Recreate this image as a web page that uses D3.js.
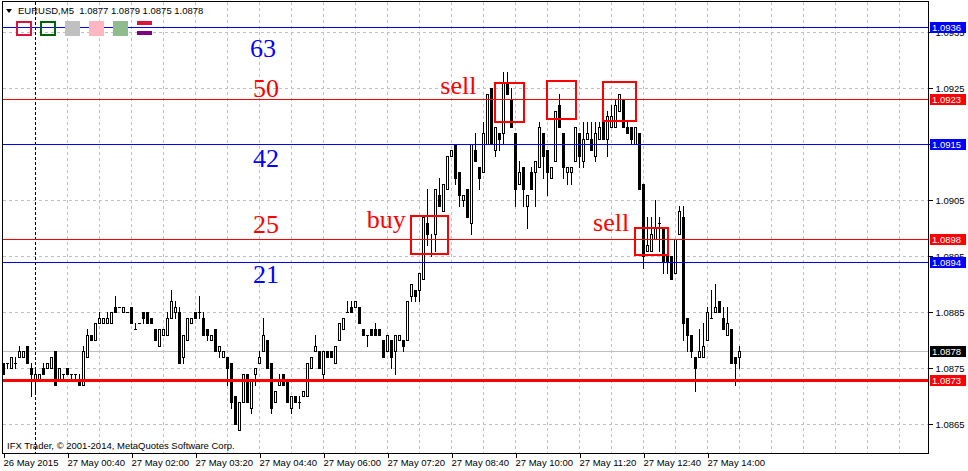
<!DOCTYPE html>
<html><head><meta charset="utf-8">
<script src="https://cdn.jsdelivr.net/npm/d3@7"></script>
<style>body{margin:0;background:#fff}svg{display:block}</style>
</head><body>
<svg id="c" width="968" height="471"></svg>
<script>
const symbolName = "EURUSD,M5";
const opens = [1.0876,1.0876,1.0875,1.0876,1.0877,1.0877,1.0879,1.0875,1.0873,1.0873,1.0875,1.0875,1.0875,1.0878,1.0873,1.0874,1.0875,1.0874,1.0874,1.0873,
1.0872,1.0877,1.0881,1.0880,1.0883,1.0883,1.0883,1.0883,1.0886,1.0886,1.0885,1.0885,1.0886,1.0882,1.0883,1.0885,1.0885,1.0884,1.0882,1.0879,
1.0881,1.0881,1.0884,1.0885,1.0885,1.0877,1.0880,1.0883,1.0885,1.0885,1.0884,1.0882,1.0880,1.0882,1.0878,1.0877,1.0877,1.0876,1.0870,1.0864,
1.0869,1.0874,1.0868,1.0874,1.0876,1.0878,1.0880,1.0876,1.0869,1.0872,1.0874,1.0873,1.0868,1.0870,1.0869,1.0870,1.0870,1.0875,1.0878,1.0878,
1.0874,1.0878,1.0878,1.0876,1.0880,1.0882,1.0885,1.0886,1.0886,1.0886,1.0882,1.0881,1.0882,1.0882,1.0882,1.0880,1.0878,1.0880,1.0878,1.0880,
1.0880,1.0880,1.0888,1.0889,1.0889,1.0891,1.0901,1.0898,1.0899,1.0906,1.0903,1.0907,1.0913,1.0915,1.0910,1.0905,1.0907,1.0901,1.0914,1.0911,
1.0910,1.0915,1.0925,1.0914,1.0917,1.0917,1.0926,1.0923,1.0917,1.0908,1.0911,1.0904,1.0910,1.0910,1.0911,1.0917,1.0914,1.0909,1.0912,1.0922,
1.0917,1.0910,1.0910,1.0912,1.0917,1.0912,1.0916,1.0916,1.0913,1.0916,1.0919,1.0916,1.0918,1.0918,1.0921,1.0923,1.0918,1.0918,1.0915,1.0917,
1.0908,1.0896,1.0896,1.0898,1.0901,1.0900,1.0895,1.0895,1.0892,1.0899,1.0902,1.0884,1.0881,1.0877,1.0877,1.0877,1.0880,1.0884,1.0885,1.0887,
1.0884,1.0881,1.0882,1.0877,1.0877];
const highs = [1.0876,1.0876,1.0877,1.0877,1.0879,1.0878,1.0879,1.0876,1.0875,1.0874,1.0876,1.0876,1.0877,1.0878,1.0875,1.0874,1.0875,1.0874,1.0874,1.0874,
1.0879,1.0882,1.0881,1.0883,1.0885,1.0884,1.0885,1.0885,1.0888,1.0886,1.0886,1.0885,1.0886,1.0883,1.0883,1.0885,1.0885,1.0884,1.0882,1.0882,
1.0882,1.0885,1.0889,1.0887,1.0886,1.0881,1.0884,1.0884,1.0885,1.0888,1.0885,1.0882,1.0881,1.0882,1.0879,1.0878,1.0877,1.0876,1.0870,1.0869,
1.0874,1.0874,1.0873,1.0875,1.0878,1.0884,1.0880,1.0876,1.0871,1.0874,1.0874,1.0873,1.0870,1.0870,1.0870,1.0871,1.0876,1.0877,1.0881,1.0878,
1.0878,1.0878,1.0878,1.0879,1.0883,1.0884,1.0887,1.0887,1.0887,1.0886,1.0882,1.0881,1.0882,1.0883,1.0882,1.0880,1.0881,1.0880,1.0881,1.0881,
1.0880,1.0887,1.0890,1.0889,1.0892,1.0902,1.0907,1.0899,1.0907,1.0909,1.0908,1.0913,1.0914,1.0915,1.0910,1.0906,1.0907,1.0915,1.0917,1.0911,
1.0919,1.0924,1.0925,1.0918,1.0917,1.0928,1.0928,1.0925,1.0917,1.0912,1.0911,1.0906,1.0911,1.0912,1.0919,1.0917,1.0914,1.0911,1.0921,1.0924,
1.0917,1.0911,1.0911,1.0918,1.0917,1.0919,1.0919,1.0919,1.0919,1.0919,1.0920,1.0921,1.0922,1.0923,1.0924,1.0923,1.0919,1.0918,1.0918,1.0917,
1.0908,1.0902,1.0902,1.0905,1.0902,1.0900,1.0895,1.0895,1.0898,1.0904,1.0904,1.0884,1.0881,1.0877,1.0882,1.0883,1.0886,1.0889,1.0890,1.0887,
1.0886,1.0886,1.0882,1.0877,1.0879];
const lows = [1.0874,1.0875,1.0875,1.0875,1.0877,1.0877,1.0876,1.0870,1.0871,1.0873,1.0874,1.0875,1.0875,1.0872,1.0873,1.0873,1.0874,1.0873,1.0873,1.0872,
1.0872,1.0877,1.0880,1.0880,1.0883,1.0883,1.0883,1.0883,1.0885,1.0886,1.0885,1.0885,1.0883,1.0882,1.0883,1.0883,1.0883,1.0883,1.0880,1.0879,
1.0881,1.0881,1.0884,1.0884,1.0876,1.0876,1.0880,1.0883,1.0884,1.0884,1.0881,1.0880,1.0880,1.0878,1.0877,1.0877,1.0872,1.0868,1.0865,1.0864,
1.0869,1.0869,1.0867,1.0872,1.0876,1.0878,1.0875,1.0867,1.0869,1.0872,1.0872,1.0869,1.0867,1.0869,1.0868,1.0870,1.0870,1.0875,1.0878,1.0875,
1.0873,1.0877,1.0877,1.0876,1.0880,1.0882,1.0885,1.0885,1.0886,1.0883,1.0881,1.0879,1.0881,1.0881,1.0881,1.0877,1.0878,1.0875,1.0874,1.0880,
1.0878,1.0880,1.0887,1.0887,1.0887,1.0891,1.0897,1.0895,1.0896,1.0904,1.0903,1.0907,1.0913,1.0908,1.0904,1.0904,1.0902,1.0899,1.0912,1.0907,
1.0910,1.0915,1.0915,1.0913,1.0914,1.0915,1.0924,1.0918,1.0904,1.0908,1.0904,1.0900,1.0907,1.0904,1.0911,1.0909,1.0906,1.0909,1.0912,1.0918,
1.0909,1.0908,1.0908,1.0912,1.0911,1.0911,1.0916,1.0914,1.0912,1.0916,1.0916,1.0913,1.0918,1.0918,1.0921,1.0918,1.0917,1.0915,1.0915,1.0907,
1.0893,1.0896,1.0896,1.0898,1.0896,1.0892,1.0892,1.0891,1.0892,1.0899,1.0880,1.0878,1.0877,1.0871,1.0877,1.0877,1.0880,1.0884,1.0885,1.0885,
1.0882,1.0881,1.0876,1.0872,1.0875];
const closes = [1.0874,1.0876,1.0877,1.0876,1.0878,1.0878,1.0876,1.0874,1.0874,1.0874,1.0874,1.0876,1.0877,1.0872,1.0875,1.0874,1.0874,1.0874,1.0874,1.0872,
1.0878,1.0881,1.0880,1.0883,1.0884,1.0884,1.0884,1.0885,1.0885,1.0886,1.0886,1.0885,1.0883,1.0882,1.0883,1.0884,1.0883,1.0883,1.0880,1.0882,
1.0882,1.0884,1.0887,1.0886,1.0876,1.0881,1.0884,1.0884,1.0884,1.0885,1.0881,1.0881,1.0881,1.0878,1.0879,1.0878,1.0875,1.0869,1.0865,1.0869,
1.0874,1.0869,1.0873,1.0875,1.0877,1.0881,1.0875,1.0868,1.0871,1.0873,1.0872,1.0869,1.0870,1.0869,1.0869,1.0871,1.0876,1.0877,1.0879,1.0875,
1.0878,1.0877,1.0877,1.0879,1.0883,1.0884,1.0885,1.0885,1.0887,1.0883,1.0881,1.0881,1.0881,1.0881,1.0881,1.0877,1.0881,1.0877,1.0881,1.0881,
1.0879,1.0887,1.0890,1.0888,1.0892,1.0902,1.0899,1.0898,1.0907,1.0904,1.0908,1.0913,1.0914,1.0909,1.0906,1.0906,1.0902,1.0915,1.0912,1.0909,
1.0917,1.0924,1.0915,1.0918,1.0916,1.0926,1.0924,1.0918,1.0907,1.0910,1.0907,1.0906,1.0907,1.0912,1.0918,1.0913,1.0910,1.0911,1.0921,1.0918,
1.0911,1.0911,1.0911,1.0918,1.0913,1.0916,1.0917,1.0914,1.0917,1.0918,1.0916,1.0920,1.0920,1.0922,1.0924,1.0918,1.0917,1.0916,1.0918,1.0907,
1.0895,1.0897,1.0899,1.0900,1.0901,1.0894,1.0894,1.0891,1.0898,1.0903,1.0883,1.0881,1.0878,1.0875,1.0878,1.0879,1.0885,1.0884,1.0886,1.0885,
1.0882,1.0883,1.0876,1.0876,1.0878];

const priceTicks = [1.0865,1.0875,1.0885,1.0895,1.0905,1.0915,1.0925,1.0935];
const timeTickBars = [0,16,32,48,64,80,96,112,128,144,160,176];
const timeTickLabels = ["26 May 2015","27 May 00:40","27 May 02:00","27 May 03:20","27 May 04:40","27 May 06:00",
  "27 May 07:20","27 May 08:40","27 May 10:00","27 May 11:20","27 May 12:40","27 May 14:00"];
const newDayBar = 8;
const barsPerGrid = 8;
const visibleBars = 231.25;

const levelPrices = [1.0936,1.0923,1.0915,1.0898,1.0894,1.0873];
const levelKinds  = ["blue","red","blue","red","blue","redThick"];
const bidPrice = 1.0878;

const numberTexts  = ["63","50","42","25","21"];
const numberPrices = [1.09306,1.09234,1.09109,1.08992,1.08902];
const numberBars   = [61.6,62.4,62.4,62.4,62.4];
const numberKinds  = ["blue","red","blue","red","blue"];

const signalTexts  = ["sell","buy","sell"];
const signalBars   = [109.2,90.8,147.4];
const signalPrices = [1.09239,1.09000,1.08995];

const boxStartBars = [102,123,136,150,158];
const boxEndBars   = [111,130,143,158,166];
const boxTopPrices = [1.09022,1.09259,1.09263,1.09261,1.09000];
const boxBotPrices = [1.08954,1.09189,1.09195,1.09192,1.08953];

const colors = {blue:"#0000ff", red:"#ff0000", redThick:"#ff0000"};
const FONT = "'Liberation Sans', Arial, sans-serif";
const SERIF = "'Liberation Serif', 'Times New Roman', serif";

const svg = d3.select("#c");
const L = 2.5, R = 928.5, T = 1.5, B = 453.5;

const x = d3.scaleLinear().domain([0, visibleBars]).range([3.5, 928.5]);
const y = d3.scaleLinear().domain([1.0865, 1.0925]).range([424.3, 88.3]);
const yr = p => Math.round(y(p)) + 0.5;

svg.append("rect").attr("width",968).attr("height",471).attr("fill","#fff");

// grid
const grid = svg.append("g").attr("shape-rendering","crispEdges");
grid.selectAll("line.h").data(priceTicks).join("line")
  .attr("x1",L).attr("x2",R).attr("y1",d=>yr(d)).attr("y2",d=>yr(d))
  .attr("stroke","#c0c0c0").attr("stroke-dasharray","3,3");
grid.selectAll("line.v").data(d3.range(barsPerGrid, visibleBars, barsPerGrid).filter(b=>b!==newDayBar)).join("line")
  .attr("x1",d=>x(d)).attr("x2",d=>x(d)).attr("y1",T).attr("y2",B)
  .attr("stroke","#c0c0c0").attr("stroke-dasharray","3,3");
grid.append("line").attr("x1",x(newDayBar)-0.5).attr("x2",x(newDayBar)-0.5).attr("y1",T).attr("y2",B)
  .attr("stroke","#000").attr("stroke-dasharray","3,2");
// bid line
grid.append("line").attr("x1",L).attr("x2",R).attr("y1",yr(bidPrice)).attr("y2",yr(bidPrice))
  .attr("stroke","#c0c0c0");

// candles
const bars = d3.range(opens.length).map(i=>({i,o:opens[i],h:highs[i],l:lows[i],c:closes[i]}));
const cg = svg.append("g").attr("shape-rendering","crispEdges");
bars.forEach(d=>{
  const cx = x(d.i);
  const g = cg.append("g");
  const hy = Math.round(y(d.h)), ly = Math.round(y(d.l));
  g.append("line").attr("x1",cx).attr("x2",cx).attr("y1",hy).attr("y2",ly+1).attr("stroke","#000");
  const top = Math.round(y(Math.max(d.o,d.c))), bot = Math.round(y(Math.min(d.o,d.c)));
  if (d.o === d.c) {
    g.append("line").attr("x1",cx-1.5).attr("x2",cx+1.5).attr("y1",top+0.5).attr("y2",top+0.5).attr("stroke","#000");
  } else if (d.c < d.o) {
    g.append("rect").attr("x",cx-1.5).attr("y",top).attr("width",3).attr("height",bot-top+1).attr("fill","#000");
  } else {
    g.append("rect").attr("x",cx-1).attr("y",top+0.5).attr("width",2).attr("height",bot-top)
      .attr("fill","#fff").attr("stroke","#000");
  }
});

// level lines
const lg = svg.append("g").attr("shape-rendering","crispEdges");
levelPrices.forEach((p,i)=>{
  const k = levelKinds[i];
  lg.append("line").attr("x1",L).attr("x2",R).attr("y1",yr(p)).attr("y2",yr(p))
    .attr("stroke",colors[k]).attr("stroke-width",k==="redThick"?3:1);
});

// boxes
const bg = svg.append("g");
boxStartBars.forEach((b,i)=>{
  const x0 = x(b)-0.5, x1 = x(boxEndBars[i])+0.5;
  const y0 = Math.round(y(boxTopPrices[i])), y1 = Math.round(y(boxBotPrices[i]));
  bg.append("rect").attr("x",x0).attr("y",y0).attr("width",x1-x0).attr("height",y1-y0)
    .attr("fill","none").attr("stroke","#ff0000").attr("stroke-width",2);
});

// annotation texts
numberTexts.forEach((t,i)=>{
  svg.append("text").attr("x",x(numberBars[i])).attr("y",y(numberPrices[i]))
    .attr("font-family",SERIF).attr("font-size",26).attr("fill",colors[numberKinds[i]]).text(t);
});
signalTexts.forEach((t,i)=>{
  svg.append("text").attr("x",x(signalBars[i])).attr("y",y(signalPrices[i]))
    .attr("font-family",SERIF).attr("font-size",26).attr("fill","#ff0000").text(t);
});

// frame
svg.append("rect").attr("x",L).attr("y",T).attr("width",R-L).attr("height",B-T)
  .attr("fill","none").attr("stroke","#000").attr("shape-rendering","crispEdges");

// price axis (tick labels hidden behind level boxes are clipped by them, as in the terminal)
const yAxis = d3.axisRight(y).tickValues(priceTicks).tickFormat(d3.format(".4f")).tickSize(4).tickPadding(3);
const ya = svg.append("g").attr("transform",`translate(${R},0)`).call(yAxis);
ya.select(".domain").remove();
ya.selectAll(".tick").attr("transform",d=>`translate(0,${yr(d)})`);
ya.selectAll("line").attr("stroke","#000").attr("shape-rendering","crispEdges");
ya.selectAll("text").attr("font-family",FONT).attr("font-size",9.5).attr("fill","#000");
// a tick label fully covered by a level box is not drawn
ya.selectAll(".tick").filter(d=>levelPrices.some(p=>Math.abs(p-d)<1e-6)).select("text").remove();

// time axis
const xAxis = d3.axisBottom(x).tickValues(timeTickBars).tickFormat((d,i)=>timeTickLabels[i]).tickSize(4).tickPadding(2);
const xa = svg.append("g").attr("transform",`translate(0,${B})`).call(xAxis);
xa.select(".domain").remove();
xa.selectAll("line").attr("stroke","#000").attr("shape-rendering","crispEdges");
xa.selectAll("text").attr("font-family",FONT).attr("font-size",9.5).attr("fill","#000").attr("text-anchor","start").attr("x",-0.5);

// price labels on axis
const allLabels = levelPrices.map((p,i)=>({p,color:colors[levelKinds[i]]})).concat([{p:bidPrice,color:"#000"}]);
allLabels.forEach(d=>{
  const cy = Math.round(y(d.p)) + 0.5;
  svg.append("rect").attr("x",930).attr("y",cy-5.5).attr("width",36).attr("height",11).attr("fill",d.color);
  svg.append("text").attr("x",932).attr("y",cy).attr("dy","0.35em").attr("font-family",FONT).attr("font-size",9.5)
    .attr("fill","#fff").text(d3.format(".4f")(d.p));
});

// header
svg.append("path").attr("d","M6,9 L12,9 L9,13 Z").attr("fill","#000");
const last = opens.length-1;
svg.append("text").attr("x",18).attr("y",14).attr("font-family",FONT).attr("font-size",9.5).attr("fill","#000")
  .attr("xml:space","preserve")
  .text(`${symbolName}  ${[opens[last],highs[last],lows[last],closes[last]].map(d3.format(".4f")).join(" ")}`);

// icons
const ic = svg.append("g").attr("shape-rendering","crispEdges");
ic.append("rect").attr("x",17).attr("y",22).attr("width",14).attr("height",13).attr("fill","none").attr("stroke","#dc143c").attr("stroke-width",2);
ic.append("rect").attr("x",41).attr("y",22).attr("width",14).attr("height",13).attr("fill","none").attr("stroke","#006400").attr("stroke-width",2);
ic.append("rect").attr("x",65).attr("y",21).attr("width",15).attr("height",15).attr("fill","#c0c0c0");
ic.append("rect").attr("x",89).attr("y",21).attr("width",15).attr("height",15).attr("fill","#ffb6c1");
ic.append("rect").attr("x",113).attr("y",21).attr("width",15).attr("height",15).attr("fill","#8fbc8f");
ic.append("rect").attr("x",137).attr("y",21).attr("width",15).attr("height",4).attr("fill","#dc143c");
ic.append("rect").attr("x",137).attr("y",31).attr("width",15).attr("height",4).attr("fill","#800080");

// copyright
svg.append("text").attr("x",7).attr("y",449).attr("font-family",FONT).attr("font-size",9.5).attr("fill","#000")
  .text("IFX Trader, © 2001-2014, MetaQuotes Software Corp.");
</script>
</body></html>
